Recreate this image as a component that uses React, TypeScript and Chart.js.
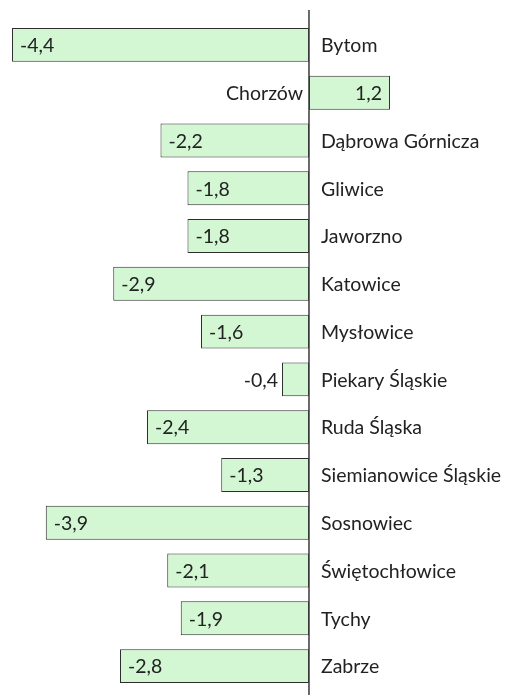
import React, { useEffect, useRef } from "react";
import { Chart, registerables } from "chart.js";

Chart.register(...registerables);

const categories = [
  "Bytom",
  "Chorzów",
  "Dąbrowa Górnicza",
  "Gliwice",
  "Jaworzno",
  "Katowice",
  "Mysłowice",
  "Piekary Śląskie",
  "Ruda Śląska",
  "Siemianowice Śląskie",
  "Sosnowiec",
  "Świętochłowice",
  "Tychy",
  "Zabrze",
];

const values = [-4.4, 1.2, -2.2, -1.8, -1.8, -2.9, -1.6, -0.4, -2.4, -1.3, -3.9, -2.1, -1.9, -2.8];

const FONT = "19.5px Lato";
const TEXT = "#222222";

const labelPlugin = {
  id: "labelPlugin",
  afterDatasetsDraw(chart: any) {
    const ctx = chart.ctx;
    const xs = chart.scales.x;
    const ys = chart.scales.y;
    const x0 = xs.getPixelForValue(0);
    ctx.save();
    // axis line
    ctx.strokeStyle = "#3a3a3a";
    ctx.lineWidth = 1.5;
    ctx.beginPath();
    ctx.moveTo(x0, 10);
    ctx.lineTo(x0, chart.height);
    ctx.stroke();

    ctx.font = FONT;
    ctx.fillStyle = TEXT;
    ctx.textBaseline = "middle";
    values.forEach((v, i) => {
      const y = ys.getPixelForValue(i) + 1;
      const xe = xs.getPixelForValue(v);
      const txt = v.toFixed(1).replace(".", ",");
      if (v < 0) {
        ctx.textAlign = "left";
        ctx.fillText(categories[i], x0 + 12, y);
        if (x0 - xe > 50) {
          ctx.textAlign = "left";
          ctx.fillText(txt, xe + 8, y);
        } else {
          ctx.textAlign = "right";
          ctx.fillText(txt, xe - 4, y);
        }
      } else {
        ctx.textAlign = "right";
        ctx.fillText(categories[i], x0 - 6, y);
        ctx.fillText(txt, xe - 8, y);
      }
    });
    ctx.restore();
  },
};

export default function App() {
  const ref = useRef<HTMLCanvasElement | null>(null);
  useEffect(() => {
    if (!ref.current) return;
    const chart = new Chart(ref.current, {
      type: "bar",
      data: {
        labels: categories,
        datasets: [
          {
            data: values,
            backgroundColor: "#d3f6d3",
            borderColor: "#2e2e2e",
            borderWidth: 1,
            borderSkipped: false,
            barPercentage: 0.71,
            categoryPercentage: 1,
          },
        ],
      },
      options: {
        indexAxis: "y",
        animation: false,
        responsive: false,
        maintainAspectRatio: false,
        layout: { padding: { top: 21, bottom: 5, left: 0, right: 0 } },
        plugins: { legend: { display: false }, tooltip: { enabled: false } },
        scales: {
          x: { display: false, min: -4.578, max: 2.919 },
          y: { display: false },
        },
      },
      plugins: [labelPlugin],
    });
    return () => chart.destroy();
  }, []);
  return (
    <div style={{ position: "fixed", left: 0, top: 0, width: 506, height: 695, background: "#fff" }}>
      <canvas ref={ref} width={506} height={695} style={{ display: "block" }} />
    </div>
  );
}
